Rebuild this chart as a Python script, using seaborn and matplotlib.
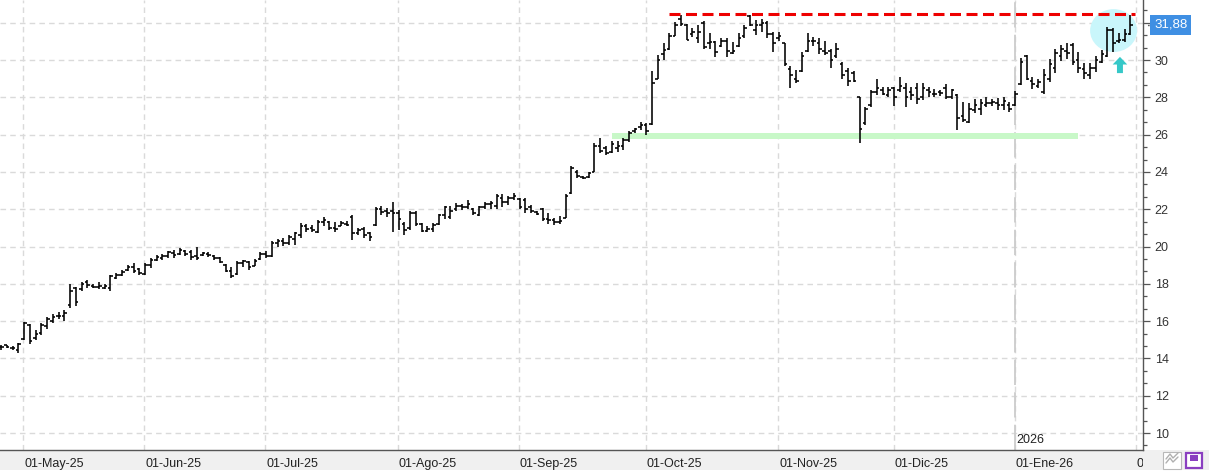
import numpy as np
import pandas as pd
import matplotlib
matplotlib.use("Agg")
import matplotlib.pyplot as plt
import seaborn as sns
from matplotlib.patches import Ellipse, Rectangle
from matplotlib.transforms import Bbox, TransformedBbox
from matplotlib.ticker import MultipleLocator, FixedLocator

# ---------------- data ----------------
start_date = "2025-04-25"
end_date = "2026-01-30"
holidays = ["2025-05-01", "2025-12-25", "2025-12-26", "2026-01-01"]

highs = [14.73, 14.73, 14.68, 14.82, 15.98, 15.82, 15.50, 15.90, 16.20, 16.40,
         16.50, 16.60, 18.00, 17.85, 18.10, 18.20, 18.00, 18.10, 18.00, 18.50,
         18.60, 18.75, 19.00, 19.10, 18.85, 19.10, 19.40, 19.55, 19.60, 19.77,
         19.80, 19.90, 19.80, 19.80, 20.00, 19.70, 19.70, 19.55, 19.45, 19.05,
         18.90, 19.23, 19.30, 19.23, 19.35, 19.70, 19.76, 20.30, 20.40, 20.45,
         20.64, 20.80, 21.26, 21.20, 21.13, 21.43, 21.58, 21.35, 21.30, 21.35,
         21.35, 21.70, 21.00, 21.05, 20.80, 22.14, 22.18, 22.05, 22.40, 21.96,
         21.30, 21.93, 21.88, 21.26, 21.08, 21.26, 21.76, 22.20, 22.20, 22.34,
         22.30, 22.50, 22.07, 22.20, 22.37, 22.43, 22.80, 22.80, 22.70, 22.88,
         22.60, 22.60, 22.25, 21.90, 22.07, 21.80, 21.53, 21.63, 22.80, 24.34,
         24.12, 23.80, 24.00, 25.55, 25.80, 25.40, 25.64, 25.64, 25.80, 26.18,
         26.36, 26.70, 26.60, 29.40, 30.27, 30.90, 31.43, 32.05, 32.40, 31.93,
         31.70, 31.90, 32.10, 31.43, 31.04, 31.16, 31.16, 30.98, 31.46, 31.90,
         32.40, 32.14, 32.18, 32.10, 31.50, 31.50, 30.90, 29.68, 29.46, 30.45,
         31.43, 31.25, 31.20, 31.00, 30.60, 30.93, 29.90, 29.55, 29.43, 28.04,
         27.50, 28.39, 28.96, 28.54, 28.57, 28.54, 29.07, 28.75, 28.54, 28.79,
         28.75, 28.54, 28.43, 28.40, 28.71, 28.43, 28.16, 27.77, 27.71, 27.90,
         27.90, 28.00, 27.90, 27.95, 28.00, 27.77, 28.36, 30.10, 30.27, 29.07,
         29.00, 29.50, 30.04, 30.57, 30.80, 30.90, 30.93, 30.45, 29.86, 29.86,
         30.20, 30.54, 31.75, 31.70, 31.46, 31.64, 32.40]

lows = [14.46, 14.55, 14.46, 14.29, 15.00, 14.80, 15.00, 15.27, 15.60, 15.90,
        16.10, 16.00, 16.70, 16.80, 17.60, 17.80, 17.80, 17.70, 17.70, 17.60,
        18.25, 18.40, 18.70, 18.60, 18.50, 18.50, 18.85, 19.20, 19.30, 19.40,
        19.40, 19.55, 19.50, 19.30, 19.30, 19.50, 19.45, 19.30, 19.10, 18.62,
        18.30, 18.50, 18.90, 18.75, 18.93, 19.30, 19.40, 19.46, 20.00, 20.05,
        20.06, 20.10, 20.46, 20.80, 20.80, 20.73, 21.08, 20.90, 20.80, 21.08,
        21.08, 20.34, 20.64, 20.47, 20.30, 21.12, 21.70, 21.60, 20.80, 20.90,
        20.64, 20.90, 21.10, 20.77, 20.77, 20.80, 21.17, 21.47, 21.48, 21.90,
        21.95, 22.00, 21.70, 21.66, 22.00, 22.00, 22.00, 22.10, 22.25, 22.50,
        22.00, 21.80, 21.80, 21.70, 21.36, 21.23, 21.18, 21.23, 21.53, 22.80,
        23.68, 23.60, 23.68, 24.00, 25.00, 24.93, 25.00, 25.05, 25.20, 25.60,
        26.10, 26.27, 26.00, 26.50, 28.96, 30.00, 30.54, 31.29, 31.80, 31.07,
        31.25, 30.90, 30.60, 30.60, 30.18, 30.70, 30.18, 30.32, 30.70, 31.16,
        31.80, 31.34, 31.50, 31.20, 30.45, 31.04, 29.68, 28.48, 28.75, 29.38,
        30.45, 30.75, 30.32, 30.27, 29.55, 30.09, 29.00, 28.60, 28.84, 25.57,
        26.50, 27.50, 28.10, 28.10, 28.03, 27.54, 28.30, 27.46, 27.86, 27.64,
        27.86, 28.04, 28.04, 28.07, 27.90, 27.90, 26.25, 26.70, 26.64, 27.14,
        27.05, 27.46, 27.54, 27.32, 27.32, 27.23, 27.54, 28.66, 28.93, 28.43,
        28.48, 28.18, 28.84, 29.29, 29.96, 30.04, 29.73, 29.29, 28.96, 29.00,
        29.38, 29.82, 30.14, 30.45, 30.93, 30.98, 31.34]

opens = [14.62, 14.70, 14.58, 14.45, 15.02, 15.78, 15.10, 15.35, 15.75, 16.00,
         16.25, 16.30, 16.85, 17.80, 17.70, 18.10, 17.90, 17.85, 17.80, 17.75,
         18.30, 18.50, 18.75, 18.90, 18.80, 18.55, 19.00, 19.30, 19.40, 19.50,
         19.65, 19.60, 19.75, 19.70, 19.50, 19.55, 19.60, 19.50, 19.40, 19.00,
         18.70, 18.55, 19.10, 19.15, 18.95, 19.35, 19.60, 19.50, 20.20, 20.30,
         20.20, 20.40, 20.60, 21.10, 21.00, 20.80, 21.30, 21.30, 21.00, 21.10,
         21.20, 21.60, 20.70, 20.95, 20.70, 21.15, 22.00, 21.90, 21.90, 21.80,
         21.20, 21.00, 21.80, 21.20, 20.85, 20.95, 21.20, 21.70, 21.60, 22.00,
         22.15, 22.10, 22.00, 21.70, 22.10, 22.30, 22.20, 22.60, 22.40, 22.60,
         22.55, 22.50, 22.10, 21.85, 22.00, 21.50, 21.40, 21.30, 21.55, 22.85,
         24.00, 23.75, 23.75, 24.00, 25.40, 25.30, 25.05, 25.30, 25.40, 25.70,
         26.20, 26.40, 26.50, 26.55, 29.00, 30.30, 30.60, 31.30, 32.20, 31.90,
         31.40, 31.20, 32.00, 30.90, 30.95, 30.75, 31.00, 30.40, 30.75, 31.30,
         32.35, 31.60, 31.90, 32.00, 31.40, 31.20, 30.90, 29.50, 29.00, 29.40,
         30.50, 31.00, 30.90, 30.50, 30.50, 30.20, 29.80, 29.40, 29.30, 28.00,
         26.60, 27.60, 28.30, 28.40, 28.10, 28.50, 28.40, 28.50, 28.30, 28.50,
         28.00, 28.40, 28.20, 28.30, 28.50, 28.00, 28.10, 27.00, 26.70, 27.30,
         27.40, 27.60, 27.70, 27.70, 27.60, 27.60, 27.60, 28.70, 30.20, 28.90,
         28.60, 28.30, 29.00, 29.60, 30.20, 30.50, 30.80, 30.00, 29.50, 29.20,
         29.60, 29.90, 30.20, 31.60, 31.00, 31.10, 31.40]

closes = [14.60, 14.62, 14.55, 14.78, 15.92, 14.95, 15.30, 15.80, 16.10, 16.20,
          16.30, 16.45, 17.60, 17.05, 18.00, 17.95, 17.85, 17.90, 17.90, 18.40,
          18.45, 18.65, 18.90, 18.70, 18.60, 19.00, 19.30, 19.45, 19.50, 19.70,
          19.55, 19.80, 19.60, 19.45, 19.40, 19.65, 19.55, 19.40, 19.15, 18.70,
          18.40, 19.10, 19.20, 18.90, 19.20, 19.60, 19.50, 20.20, 20.30, 20.20,
          20.50, 20.70, 21.10, 20.95, 20.90, 21.30, 21.40, 21.00, 20.95, 21.25,
          21.15, 20.70, 20.90, 20.60, 20.50, 22.00, 21.85, 21.80, 21.80, 21.50,
          20.90, 21.80, 21.20, 20.85, 20.95, 21.15, 21.70, 22.10, 21.90, 22.20,
          22.10, 22.30, 21.80, 22.10, 22.30, 22.35, 22.70, 22.40, 22.60, 22.70,
          22.10, 22.00, 21.90, 21.75, 21.50, 21.40, 21.30, 21.35, 22.70, 24.20,
          23.80, 23.70, 23.95, 25.40, 25.10, 25.00, 25.50, 25.40, 25.70, 26.10,
          26.30, 26.50, 26.20, 28.75, 30.00, 30.55, 31.30, 31.90, 31.95, 31.10,
          31.50, 31.50, 30.70, 30.95, 30.45, 31.00, 30.50, 30.50, 31.20, 31.70,
          31.90, 31.90, 32.00, 31.40, 30.90, 31.30, 29.80, 29.20, 28.90, 30.20,
          31.00, 31.00, 30.60, 30.40, 30.00, 30.60, 29.20, 28.90, 28.90, 26.30,
          27.40, 28.30, 28.50, 28.20, 28.40, 28.00, 28.60, 28.00, 28.10, 27.90,
          28.50, 28.30, 28.20, 28.25, 28.00, 28.40, 26.90, 26.80, 27.40, 27.60,
          27.70, 27.70, 27.75, 27.60, 27.80, 27.40, 28.20, 29.90, 29.00, 28.70,
          28.80, 29.20, 29.80, 30.40, 30.60, 30.40, 29.90, 29.60, 29.30, 29.60,
          30.00, 30.30, 31.60, 30.90, 31.10, 31.40, 31.88]

meses = ["Ene", "Feb", "Mar", "Abr", "May", "Jun", "Jul", "Ago", "Sep", "Oct", "Nov", "Dic"]
resistance_level = 32.47
resistance_span = ["2025-10-07", "2026-01-30"]
support_level = 25.95
support_span = ["2025-09-23", "2026-01-19"]
last_label = "31,88"
year_label = "2026"
y_tick_values = [10, 12, 14, 16, 18, 20, 22, 24, 26, 28, 30]

# ---------------- frame ----------------
dates = pd.bdate_range(start_date, end_date)
dates = dates[~dates.isin(pd.to_datetime(holidays))]
n = min(len(dates), len(highs))
df = pd.DataFrame({"date": dates[:n], "open": opens[:n], "high": highs[:n],
                   "low": lows[:n], "close": closes[:n]})
df["pos"] = np.arange(n)

def pos_of(d):
    d = pd.Timestamp(d)
    return float(np.searchsorted(df["date"].values, np.datetime64(d)))

month_first = df.groupby(df["date"].dt.to_period("M"))["pos"].min()
tick_pos = list(month_first.values)
tick_lab = [f"01-{meses[p.month-1]}-{str(p.year)[2:]}" for p in month_first.index]
tick_pos, tick_lab = tick_pos[1:], tick_lab[1:]          # April is partial
nxt = month_first.index[-1] + 1
tick_pos.append(n)
tick_lab.append(f"01-{meses[nxt.month-1]}-{str(nxt.year)[2:]}")
tick_pos = [p - 0.1 for p in tick_pos]

# ---------------- style ----------------
sns.set_theme(style="white")
plt.rcParams["font.family"] = ["Liberation Sans", "DejaVu Sans"]

W, H = 1209, 473
fig = plt.figure(figsize=(W / 100, H / 100), dpi=100)
fig.patch.set_facecolor("white")
ax_right_px, ax_bottom_px = 1143, 450
ax = fig.add_axes([0, (H - ax_bottom_px) / H, ax_right_px / W, ax_bottom_px / H])
ax.set_zorder(1)

# bottom band (behind the axes)
fig.patches.append(Rectangle((0, 3 / H), 1, 20 / H, transform=fig.transFigure,
                             facecolor="#f0f0f0", edgecolor="none", zorder=-5))

ax.set_xlim(-0.17, 198.2)
ax.set_ylim(9.09, 33.22)

# grid
grid_kw = dict(color="#dadada", linewidth=1.0, linestyle=(0, (4, 3)))
ax.set_yticks(np.arange(10, 34, 2))
ax.yaxis.set_minor_locator(MultipleLocator(2 / 3))
ax.xaxis.set_major_locator(FixedLocator(tick_pos))
ax.grid(True, which="major", axis="both", **grid_kw)
ax.set_axisbelow(True)

# year separator
jan_pos = [p for p, l in zip(tick_pos, tick_lab) if "Ene" in l][0]
ax.axvline(jan_pos, color="#cccccc", linewidth=1.3, linestyle=(0, (14, 4)), zorder=1)
ax.text(jan_pos + 0.3, 0.022, year_label, transform=ax.get_xaxis_transform(),
        fontsize=9, color="#222222", ha="left", va="center")

# highlight ellipse
ax.add_patch(Ellipse((193.1, 31.58), 8.16, 2.3, facecolor="#c9f6fb", edgecolor="none", zorder=1))

# support band
sns.lineplot(x=[pos_of(support_span[0]), pos_of(support_span[1])],
             y=[support_level, support_level], ax=ax, color="#c8f8c8", linewidth=4.3,
             solid_capstyle="butt", zorder=1, legend=False)

# OHLC bars
x = df["pos"].values
ax.vlines(x, df["low"], df["high"], color="black", linewidth=1.15, zorder=3)
ax.hlines(df["open"], x - 0.45, x, color="black", linewidth=1.15, zorder=3)
ax.hlines(df["close"], x, x + 0.45, color="black", linewidth=1.15, zorder=3)

# resistance
ax.plot([pos_of(resistance_span[0]) - 0.1, n - 0.2], [resistance_level] * 2,
        color="#ee0000", linewidth=2.2, linestyle=(0, (3.6, 1.8)), zorder=4)

# up arrow
ax.annotate("", xy=(194.2, 30.17), xytext=(194.2, 29.3),
            arrowprops=dict(facecolor="#36c8c8", edgecolor="none", width=4.3,
                            headwidth=10.5, headlength=5.5, shrink=0), zorder=4)

# spines
for s in ["left", "top"]:
    ax.spines[s].set_visible(False)
for s in ["right", "bottom"]:
    ax.spines[s].set_visible(True)
    ax.spines[s].set_color("#555555")
    ax.spines[s].set_linewidth(1.0)

ax.yaxis.tick_right()
ax.set_yticklabels(["" if v not in y_tick_values else str(v) for v in range(10, 34, 2)])
ax.tick_params(axis="y", which="major", direction="out", length=5, width=0.9,
               color="#555555", labelsize=9, labelcolor="#333333", pad=3.5)
ax.tick_params(axis="y", which="minor", direction="out", length=2.6, width=0.9,
               color="#555555", right=True, left=False)
ax.tick_params(axis="x", which="major", direction="out", length=6.5, width=0.9,
               color="#555555", labelbottom=False)

clip = TransformedBbox(Bbox([[0, 0], [ax_right_px / W, 1]]), fig.transFigure)
for p, lab in zip(tick_pos, tick_lab):
    t = ax.text(p + 0.15, -(13.5 / ax_bottom_px), lab, transform=ax.get_xaxis_transform(),
                fontsize=9, color="#222222", ha="left", va="center")
    t.set_clip_path(None)
    t.set_clip_on(True)
    t.set_clip_box(clip)

# last price label
ax.annotate(last_label, xy=(1.0, closes[-1]), xycoords=("axes fraction", "data"),
            xytext=(8, 0), textcoords="offset points", fontsize=9.5, color="white",
            ha="left", va="center", annotation_clip=False, zorder=10,
            bbox=dict(boxstyle="square,pad=0.28", facecolor="#3f8fe3", edgecolor="none"))
ax.annotate("←", xy=(1.0, closes[-1]), xycoords=("axes fraction", "data"),
            xytext=(1.5, 0), textcoords="offset points", fontsize=6.5, color="#444444",
            ha="left", va="center", annotation_clip=False)

# small toolbar icons in the bottom band
fig.patches.append(Rectangle((1163 / W, 4 / H), 18 / W, 17 / H, transform=fig.transFigure,
                             facecolor="white", edgecolor="#b8b8b8", linewidth=0.8, zorder=5))
for dy in (0, 4):
    fig.lines.append(plt.Line2D([1166 / W, 1170 / W, 1173 / W, 1178 / W],
                                [(10 + dy) / H, (15 + dy) / H, (11 + dy) / H, (16 + dy) / H],
                                transform=fig.transFigure, color="#b0b0b0", linewidth=1, zorder=6))
fig.patches.append(Rectangle((1186 / W, 5 / H), 16 / W, 15 / H, transform=fig.transFigure,
                             facecolor="white", edgecolor="#8a3fc0", linewidth=1.6, zorder=5))
fig.patches.append(Rectangle((1190 / W, 12 / H), 8 / W, 6 / H, transform=fig.transFigure,
                             facecolor="#8a3fc0", edgecolor="none", zorder=6))

fig.savefig("out.png", dpi=100, facecolor="white")
